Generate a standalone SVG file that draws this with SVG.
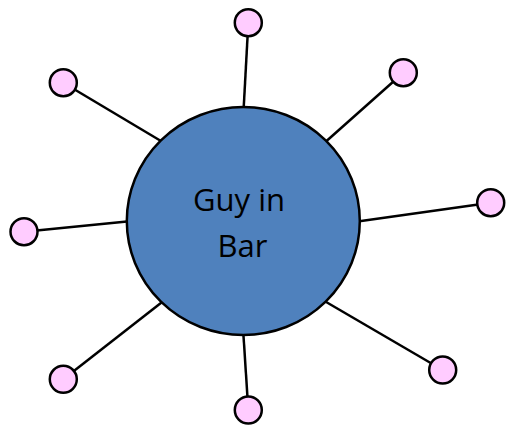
<svg xmlns="http://www.w3.org/2000/svg" width="508" height="427" viewBox="0 0 508 427">
<style>
.leaf{fill:#FFCCFF;stroke:#000;stroke-width:2.5}
.hub{fill:#4F81BD;stroke:#000;stroke-width:2.5}
.edge{stroke:#000;stroke-width:2.5;fill:none}
.lbl{font-family:"Open Sans","Liberation Sans",sans-serif;font-size:31px;fill:#000;text-anchor:middle}
</style>
<rect width="508" height="427" fill="#fff"/>
<g id="connectors">
<line class="edge" x1="248.3" y1="22.7" x2="243.3" y2="115"/>
<line class="edge" x1="403.3" y1="72.7" x2="322" y2="145"/>
<line class="edge" x1="63.3" y1="82.7" x2="166" y2="144"/>
<line class="edge" x1="24" y1="231.7" x2="132" y2="221"/>
<line class="edge" x1="490.7" y1="202.7" x2="354" y2="222"/>
<line class="edge" x1="63.3" y1="379.3" x2="166" y2="299"/>
<line class="edge" x1="248.3" y1="410" x2="243" y2="328"/>
<line class="edge" x1="442.7" y1="370" x2="321" y2="299"/>
</g>
<g id="hub">
<ellipse class="hub" cx="243.3" cy="221" rx="116.5" ry="114"/>
<text class="lbl" x="239" y="211">Guy in</text>
<text class="lbl" x="242.5" y="257">Bar</text>
</g>
<g id="n1"><circle class="leaf" cx="248.3" cy="22.7" r="13.5"/></g>
<g id="n2"><circle class="leaf" cx="403.3" cy="72.7" r="13.5"/></g>
<g id="n3"><circle class="leaf" cx="63.3" cy="82.7" r="13.5"/></g>
<g id="n4"><circle class="leaf" cx="24" cy="231.7" r="13.5"/></g>
<g id="n5"><circle class="leaf" cx="490.7" cy="202.7" r="13.5"/></g>
<g id="n6"><circle class="leaf" cx="63.3" cy="379.3" r="13.5"/></g>
<g id="n7"><circle class="leaf" cx="248.3" cy="410" r="13.5"/></g>
<g id="n8"><circle class="leaf" cx="442.7" cy="370" r="13.5"/></g>
</svg>
